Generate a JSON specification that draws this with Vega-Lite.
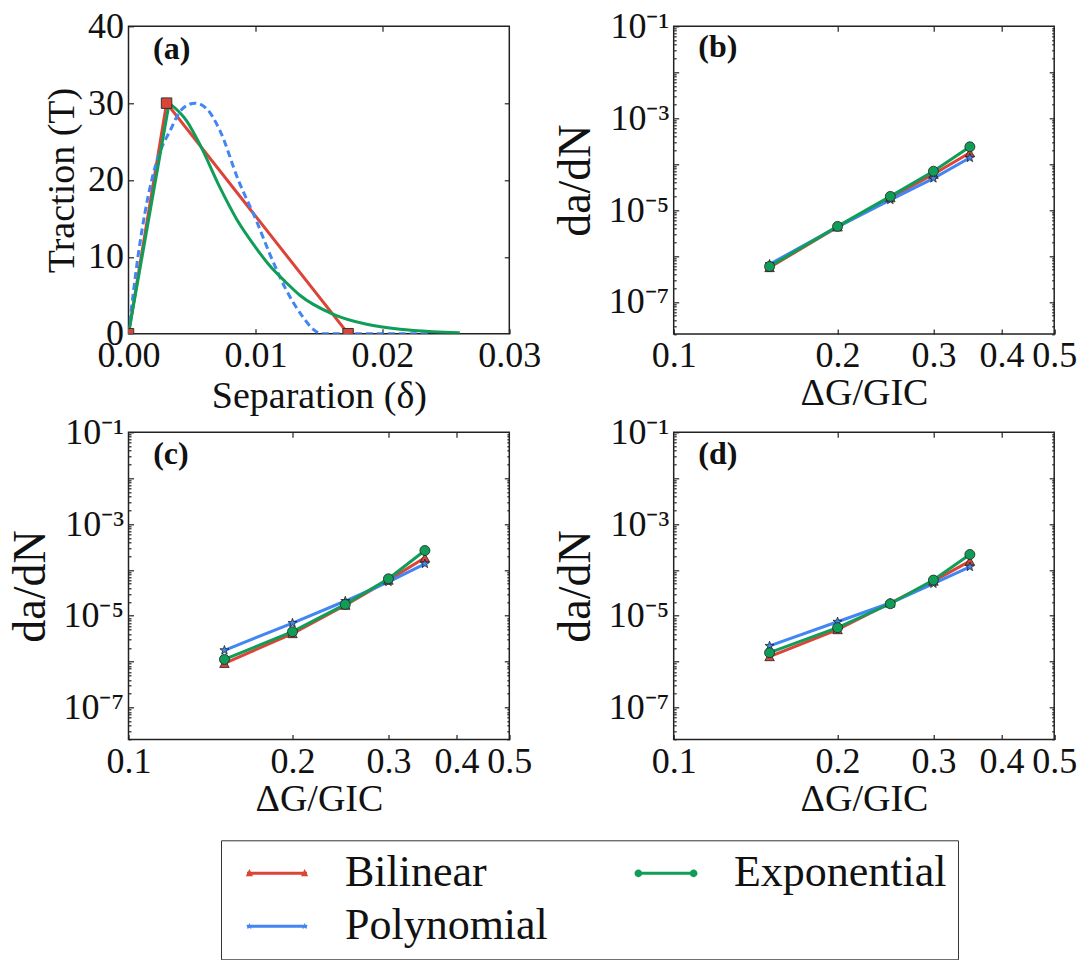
{
  "$schema": "https://vega.github.io/schema/vega-lite/v6.json",
  "padding": {"left": 6.5, "top": 7.3, "right": 0, "bottom": 0},
  "bounds": "flush",
  "columns": 2,
  "spacing": {"row": 98, "column": 164.2},
  "config": {
    "font": "Liberation Serif",
    "view": {"stroke": "#222", "strokeWidth": 1.5},
    "axis": {
      "domain": false, "grid": false, "offset": 0,
      "tickColor": "#222", "tickSize": -5, "tickWidth": 1.2,
      "labelFont": "Liberation Serif", "labelFontSize": 36, "labelColor": "#111", "labelPadding": 10,
      "labelFlush": false, "labelOverlap": false,
      "titleFont": "Liberation Serif", "titleFontSize": 38, "titleFontWeight": "normal", "titleColor": "#111"
    },
    "legend": {
      "orient": "none", "legendX": 92.5, "legendY": 814, "columns": 2, "direction": "horizontal",
      "strokeColor": "#333", "strokeWidth": 1, "padding": 11, "symbolOffset": 23,
      "labelFont": "Liberation Serif", "labelFontSize": 44, "labelColor": "#111", "labelLimit": 400,
      "labelOffset": 46, "columnPadding": 73, "rowPadding": 9, "symbolSize": 900, "symbolType": "circle"
    }
  },
  "datasets": {
    "traction": [
      {"branch": "bilinear", "model": "Bilinear", "delta": 0, "traction": 0},
      {"branch": "bilinear", "model": "Bilinear", "delta": 0.003, "traction": 30},
      {"branch": "bilinear", "model": "Bilinear", "delta": 0.0173, "traction": 0},
      {"branch": "poly", "model": "Polynomial", "delta": 0, "traction": 0},
      {"branch": "poly", "model": "Polynomial", "delta": 0.00077, "traction": 10.3},
      {"branch": "poly", "model": "Polynomial", "delta": 0.00183, "traction": 20},
      {"branch": "poly", "model": "Polynomial", "delta": 0.0024, "traction": 23.3},
      {"branch": "poly", "model": "Polynomial", "delta": 0.00327, "traction": 26.4},
      {"branch": "poly", "model": "Polynomial", "delta": 0.0042, "traction": 29.2},
      {"branch": "poly", "model": "Polynomial", "delta": 0.00524, "traction": 30},
      {"branch": "poly", "model": "Polynomial", "delta": 0.0062, "traction": 29.2},
      {"branch": "poly", "model": "Polynomial", "delta": 0.00721, "traction": 26.4},
      {"branch": "poly", "model": "Polynomial", "delta": 0.00865, "traction": 20},
      {"branch": "poly", "model": "Polynomial", "delta": 0.0101, "traction": 14.6},
      {"branch": "poly", "model": "Polynomial", "delta": 0.01115, "traction": 10.3},
      {"branch": "poly", "model": "Polynomial", "delta": 0.01233, "traction": 6.0},
      {"branch": "poly", "model": "Polynomial", "delta": 0.01377, "traction": 2.1},
      {"branch": "poly", "model": "Polynomial", "delta": 0.01456, "traction": 0.57},
      {"branch": "poly", "model": "Polynomial", "delta": 0.0152, "traction": 0},
      {"branch": "poly", "model": "Polynomial", "delta": 0.0237, "traction": 0},
      {"branch": "exp-rise", "model": "Exponential", "delta": 0, "traction": 0},
      {"branch": "exp-rise", "model": "Exponential", "delta": 0.0032, "traction": 30},
      {"branch": "exp-decay", "model": "Exponential", "delta": 0.0032, "traction": 30},
      {"branch": "exp-decay", "model": "Exponential", "delta": 0.00458, "traction": 27.7},
      {"branch": "exp-decay", "model": "Exponential", "delta": 0.00563, "traction": 24.6},
      {"branch": "exp-decay", "model": "Exponential", "delta": 0.00721, "traction": 19.0},
      {"branch": "exp-decay", "model": "Exponential", "delta": 0.00852, "traction": 14.9},
      {"branch": "exp-decay", "model": "Exponential", "delta": 0.0099, "traction": 11.5},
      {"branch": "exp-decay", "model": "Exponential", "delta": 0.01115, "traction": 8.8},
      {"branch": "exp-decay", "model": "Exponential", "delta": 0.01246, "traction": 6.6},
      {"branch": "exp-decay", "model": "Exponential", "delta": 0.0135, "traction": 5.0},
      {"branch": "exp-decay", "model": "Exponential", "delta": 0.01614, "traction": 2.52},
      {"branch": "exp-decay", "model": "Exponential", "delta": 0.01877, "traction": 1.22},
      {"branch": "exp-decay", "model": "Exponential", "delta": 0.02139, "traction": 0.57},
      {"branch": "exp-decay", "model": "Exponential", "delta": 0.02401, "traction": 0.26},
      {"branch": "exp-decay", "model": "Exponential", "delta": 0.0261, "traction": 0.13}
    ],
    "rates": [
      {"panel": "b", "model": "Bilinear", "ratio": 0.15, "rate": 5.6e-7},
      {"panel": "b", "model": "Bilinear", "ratio": 0.2, "rate": 4.3e-6},
      {"panel": "b", "model": "Bilinear", "ratio": 0.25, "rate": 1.86e-5},
      {"panel": "b", "model": "Bilinear", "ratio": 0.3, "rate": 6.0e-5},
      {"panel": "b", "model": "Bilinear", "ratio": 0.35, "rate": 1.76e-4},
      {"panel": "b", "model": "Polynomial", "ratio": 0.15, "rate": 6.6e-7},
      {"panel": "b", "model": "Polynomial", "ratio": 0.2, "rate": 4.3e-6},
      {"panel": "b", "model": "Polynomial", "ratio": 0.25, "rate": 1.66e-5},
      {"panel": "b", "model": "Polynomial", "ratio": 0.3, "rate": 4.9e-5},
      {"panel": "b", "model": "Polynomial", "ratio": 0.35, "rate": 1.37e-4},
      {"panel": "b", "model": "Exponential", "ratio": 0.15, "rate": 5.9e-7},
      {"panel": "b", "model": "Exponential", "ratio": 0.2, "rate": 4.4e-6},
      {"panel": "b", "model": "Exponential", "ratio": 0.25, "rate": 1.98e-5},
      {"panel": "b", "model": "Exponential", "ratio": 0.3, "rate": 7.0e-5},
      {"panel": "b", "model": "Exponential", "ratio": 0.35, "rate": 2.38e-4},
      {"panel": "c", "model": "Bilinear", "ratio": 0.15, "rate": 9.2e-7},
      {"panel": "c", "model": "Bilinear", "ratio": 0.2, "rate": 4.1e-6},
      {"panel": "c", "model": "Bilinear", "ratio": 0.25, "rate": 1.7e-5},
      {"panel": "c", "model": "Bilinear", "ratio": 0.3, "rate": 6.0e-5},
      {"panel": "c", "model": "Bilinear", "ratio": 0.35, "rate": 1.84e-4},
      {"panel": "c", "model": "Polynomial", "ratio": 0.15, "rate": 1.77e-6},
      {"panel": "c", "model": "Polynomial", "ratio": 0.2, "rate": 6.95e-6},
      {"panel": "c", "model": "Polynomial", "ratio": 0.25, "rate": 2.1e-5},
      {"panel": "c", "model": "Polynomial", "ratio": 0.3, "rate": 5.5e-5},
      {"panel": "c", "model": "Polynomial", "ratio": 0.35, "rate": 1.36e-4},
      {"panel": "c", "model": "Exponential", "ratio": 0.15, "rate": 1.12e-6},
      {"panel": "c", "model": "Exponential", "ratio": 0.2, "rate": 4.5e-6},
      {"panel": "c", "model": "Exponential", "ratio": 0.25, "rate": 1.77e-5},
      {"panel": "c", "model": "Exponential", "ratio": 0.3, "rate": 6.4e-5},
      {"panel": "c", "model": "Exponential", "ratio": 0.35, "rate": 2.65e-4},
      {"panel": "d", "model": "Bilinear", "ratio": 0.15, "rate": 1.29e-6},
      {"panel": "d", "model": "Bilinear", "ratio": 0.2, "rate": 5.0e-6},
      {"panel": "d", "model": "Bilinear", "ratio": 0.25, "rate": 1.9e-5},
      {"panel": "d", "model": "Bilinear", "ratio": 0.3, "rate": 5.7e-5},
      {"panel": "d", "model": "Bilinear", "ratio": 0.35, "rate": 1.55e-4},
      {"panel": "d", "model": "Polynomial", "ratio": 0.15, "rate": 2.2e-6},
      {"panel": "d", "model": "Polynomial", "ratio": 0.2, "rate": 7.4e-6},
      {"panel": "d", "model": "Polynomial", "ratio": 0.25, "rate": 1.9e-5},
      {"panel": "d", "model": "Polynomial", "ratio": 0.3, "rate": 5.0e-5},
      {"panel": "d", "model": "Polynomial", "ratio": 0.35, "rate": 1.17e-4},
      {"panel": "d", "model": "Exponential", "ratio": 0.15, "rate": 1.57e-6},
      {"panel": "d", "model": "Exponential", "ratio": 0.2, "rate": 5.5e-6},
      {"panel": "d", "model": "Exponential", "ratio": 0.25, "rate": 1.83e-5},
      {"panel": "d", "model": "Exponential", "ratio": 0.3, "rate": 6.0e-5},
      {"panel": "d", "model": "Exponential", "ratio": 0.35, "rate": 2.17e-4}
    ]
  },
  "concat": [
    {
      "width": 380.8, "height": 307.4,
      "resolve": {"axis": {"x": "independent", "y": "independent"}},
      "layer": [
        {
          "data": {"name": "traction"},
          "encoding": {
            "x": {"field": "delta", "type": "quantitative",
                  "scale": {"domain": [0, 0.03], "nice": false, "zero": false},
                  "axis": {"orient": "bottom", "values": [0, 0.01, 0.02, 0.03], "format": ".2f", "title": "Separation (δ)", "titleY": 74.3, "titleBaseline": "alphabetic"}},
            "y": {"field": "traction", "type": "quantitative",
                  "scale": {"domain": [0, 40], "nice": false},
                  "axis": {"orient": "left", "values": [0, 10, 20, 30, 40], "format": "d", "title": "Traction (T)", "titleX": -55, "titleBaseline": "alphabetic"}},
            "color": {"field": "model", "type": "nominal",
                      "scale": {"domain": ["Bilinear", "Exponential", "Polynomial"], "range": ["#DB4437", "#0F9D58", "#4285F4"]},
                      "legend": {
                        "title": null,
                        "encode": {"symbols": {"update": {
                          "shape": {"signal": "datum.value === 'Bilinear' ? 'M-2,-0.1L2,-0.1L2,0.1L-2,0.1Z M-1.6,0.2L-2.08,0.2L-1.84,-0.28Z M2.08,0.2L1.6,0.2L1.84,-0.28Z' : datum.value === 'Exponential' ? 'M-2,-0.1L2,-0.1L2,0.1L-2,0.1Z M-2.1,0A0.26,0.26 0 1,1 -1.58,0A0.26,0.26 0 1,1 -2.1,0Z M1.58,0A0.26,0.26 0 1,1 2.1,0A0.26,0.26 0 1,1 1.58,0Z' : 'M-2,-0.1L2,-0.1L2,0.1L-2,0.1Z M-1.84,-0.24L-1.7836,-0.0776L-1.6118,-0.0742L-1.7486,0.0296L-1.699,0.1942L-1.84,0.096L-1.981,0.1942L-1.9314,0.0296L-2.0682,-0.0742L-1.8964,-0.0776Z M1.84,-0.24L1.8964,-0.0776L2.0682,-0.0742L1.9314,0.0296L1.981,0.1942L1.84,0.096L1.699,0.1942L1.7486,0.0296L1.6118,-0.0742L1.7836,-0.0776Z'"},
                          "fill": {"scale": "color", "field": "value"},
                          "stroke": {"value": "transparent"},
                          "strokeWidth": {"value": 0},
                          "strokeDash": {"value": [1, 0]},
                          "size": {"value": 900},
                          "opacity": {"value": 1}
                        }}}
                      }}
          },
          "layer": [
            {"transform": [{"filter": "datum.branch === 'bilinear'"}],
             "mark": {"type": "line", "strokeWidth": 3, "clip": true}},
            {"transform": [{"filter": "datum.branch === 'poly'"}],
             "mark": {"type": "line", "strokeWidth": 3, "clip": true, "interpolate": "monotone", "strokeDash": [7, 4]}},
            {"transform": [{"filter": "datum.branch === 'exp-rise'"}],
             "mark": {"type": "line", "strokeWidth": 3, "clip": true}},
            {"transform": [{"filter": "datum.branch === 'exp-decay'"}],
             "mark": {"type": "line", "strokeWidth": 3, "clip": true, "interpolate": "monotone"}},
            {"transform": [{"filter": "datum.branch === 'bilinear'"}],
             "mark": {"type": "point", "shape": "square", "filled": true, "size": 110, "stroke": "#333", "strokeWidth": 1, "opacity": 1, "clip": true}},
            {"transform": [{"filter": "datum.branch === 'bilinear' && datum.delta === 0"}],
             "mark": {"type": "text", "text": "(a)", "align": "left", "baseline": "alphabetic", "font": "Liberation Serif", "fontSize": 32, "fontWeight": "bold"},
             "encoding": {"x": {"datum": 0.00193}, "y": {"datum": 35.75}, "color": {"value": "#111"}}}
          ]
        },
        {
          "data": {"name": "traction"},
          "mark": {"type": "point", "opacity": 0},
          "encoding": {
            "x": {"field": "delta", "type": "quantitative", "scale": {"domain": [0, 0.03], "nice": false, "zero": false},
                  "axis": {"orient": "top", "values": [0.01, 0.02], "labels": false, "title": null}},
            "y": {"field": "traction", "type": "quantitative", "scale": {"domain": [0, 40], "nice": false},
                  "axis": {"orient": "right", "values": [10, 20, 30], "labels": false, "title": null}}
          }
        }
      ]
    },
    {
      "width": 380.5, "height": 307.7,
      "data": {"name": "rates"},
      "transform": [{"filter": "datum.panel === 'b'"}],
      "resolve": {"axis": {"x": "independent", "y": "independent"}},
      "layer": [
        {
          "encoding": {
            "x": {"field": "ratio", "type": "quantitative",
                  "scale": {"type": "log", "domain": [0.1, 0.5], "nice": false},
                  "axis": {"orient": "bottom", "values": [0.1, 0.2, 0.3, 0.4, 0.5], "format": ".1f", "title": "ΔG/GIC", "titleY": 70.5, "titleBaseline": "alphabetic"}},
            "y": {"field": "rate", "type": "quantitative",
                  "scale": {"type": "log", "domain": [2e-8, 0.1], "nice": false},
                  "axis": {"orient": "left", "values": [0.1, 0.01, 0.001, 0.0001, 0.00001, 0.000001, 0.0000001],
                           "labelExpr": "(-round(log(datum.value)/LN10)) % 2 == 1 ? '10⁻' + ['⁰','¹','²','³','⁴','⁵','⁶','⁷','⁸','⁹'][-round(log(datum.value)/LN10)] : ''",
                           "title": "da/dN", "titleFontSize": 46, "titleX": -84, "titleBaseline": "alphabetic"}},
            "color": {"field": "model", "type": "nominal",
                      "scale": {"domain": ["Bilinear", "Exponential", "Polynomial"], "range": ["#DB4437", "#0F9D58", "#4285F4"]}}
          },
          "layer": [
            {"mark": {"type": "line", "strokeWidth": 3}},
            {"transform": [{"filter": "datum.model === 'Bilinear'"}],
             "mark": {"type": "point", "shape": "triangle-up", "filled": true, "size": 90, "stroke": "#222", "strokeWidth": 0.8, "opacity": 1}},
            {"transform": [{"filter": "datum.model === 'Polynomial'"}],
             "mark": {"type": "point", "shape": "M0,-1L0.235,-0.324L0.951,-0.309L0.38,0.124L0.588,0.809L0,0.4L-0.588,0.809L-0.38,0.124L-0.951,-0.309L-0.235,-0.324Z", "filled": true, "size": 90, "stroke": "#222", "strokeWidth": 0.8, "opacity": 1}},
            {"transform": [{"filter": "datum.model === 'Exponential'"}],
             "mark": {"type": "point", "shape": "circle", "filled": true, "size": 100, "stroke": "#222", "strokeWidth": 0.8, "opacity": 1}},
            {"transform": [{"filter": "datum.model === 'Bilinear' && datum.ratio === 0.15"}],
             "mark": {"type": "text", "text": "(b)", "align": "left", "baseline": "alphabetic", "font": "Liberation Serif", "fontSize": 32, "fontWeight": "bold"},
             "encoding": {"x": {"datum": 0.111}, "y": {"datum": 0.0214}, "color": {"value": "#111"}}}
          ]
        },
        {
          "mark": {"type": "point", "opacity": 0},
          "encoding": {
            "x": {"field": "ratio", "type": "quantitative", "scale": {"type": "log", "domain": [0.1, 0.5], "nice": false},
                  "axis": {"orient": "top", "values": [0.2, 0.3, 0.4], "labels": false, "title": null}},
            "y": {"field": "rate", "type": "quantitative", "scale": {"type": "log", "domain": [2e-8, 0.1], "nice": false},
                  "axis": {"orient": "right", "values": [0.01, 0.001, 0.0001, 0.00001, 0.000001, 0.0000001], "labels": false, "title": null}}
          }
        },
        {
          "mark": {"type": "point", "opacity": 0},
          "encoding": {
            "x": {"field": "ratio", "type": "quantitative", "scale": {"type": "log", "domain": [0.1, 0.5], "nice": false}, "axis": null},
            "y": {"field": "rate", "type": "quantitative", "scale": {"type": "log", "domain": [2e-8, 0.1], "nice": false},
                  "axis": {"orient": "left", "tickSize": -2.5, "labels": false, "title": null,
                           "values": [2e-8, 3e-8, 4e-8, 5e-8, 6e-8, 7e-8, 8e-8, 9e-8, 2e-7, 3e-7, 4e-7, 5e-7, 6e-7, 7e-7, 8e-7, 9e-7, 2e-6, 3e-6, 4e-6, 5e-6, 6e-6, 7e-6, 8e-6, 9e-6, 2e-5, 3e-5, 4e-5, 5e-5, 6e-5, 7e-5, 8e-5, 9e-5, 2e-4, 3e-4, 4e-4, 5e-4, 6e-4, 7e-4, 8e-4, 9e-4, 2e-3, 3e-3, 4e-3, 5e-3, 6e-3, 7e-3, 8e-3, 9e-3, 2e-2, 3e-2, 4e-2, 5e-2, 6e-2, 7e-2, 8e-2, 9e-2]}}
          }
        },
        {
          "mark": {"type": "point", "opacity": 0},
          "encoding": {
            "x": {"field": "ratio", "type": "quantitative", "scale": {"type": "log", "domain": [0.1, 0.5], "nice": false}, "axis": null},
            "y": {"field": "rate", "type": "quantitative", "scale": {"type": "log", "domain": [2e-8, 0.1], "nice": false},
                  "axis": {"orient": "right", "tickSize": -2.5, "labels": false, "title": null,
                           "values": [2e-8, 3e-8, 4e-8, 5e-8, 6e-8, 7e-8, 8e-8, 9e-8, 2e-7, 3e-7, 4e-7, 5e-7, 6e-7, 7e-7, 8e-7, 9e-7, 2e-6, 3e-6, 4e-6, 5e-6, 6e-6, 7e-6, 8e-6, 9e-6, 2e-5, 3e-5, 4e-5, 5e-5, 6e-5, 7e-5, 8e-5, 9e-5, 2e-4, 3e-4, 4e-4, 5e-4, 6e-4, 7e-4, 8e-4, 9e-4, 2e-3, 3e-3, 4e-3, 5e-3, 6e-3, 7e-3, 8e-3, 9e-3, 2e-2, 3e-2, 4e-2, 5e-2, 6e-2, 7e-2, 8e-2, 9e-2]}}
          }
        }
      ]
    },
    {
      "width": 380.8, "height": 307.3,
      "data": {"name": "rates"},
      "transform": [{"filter": "datum.panel === 'c'"}],
      "resolve": {"axis": {"x": "independent", "y": "independent"}},
      "layer": [
        {
          "encoding": {
            "x": {"field": "ratio", "type": "quantitative",
                  "scale": {"type": "log", "domain": [0.1, 0.5], "nice": false},
                  "axis": {"orient": "bottom", "values": [0.1, 0.2, 0.3, 0.4, 0.5], "format": ".1f", "title": "ΔG/GIC", "titleY": 70.5, "titleBaseline": "alphabetic"}},
            "y": {"field": "rate", "type": "quantitative",
                  "scale": {"type": "log", "domain": [2e-8, 0.1], "nice": false},
                  "axis": {"orient": "left", "values": [0.1, 0.01, 0.001, 0.0001, 0.00001, 0.000001, 0.0000001],
                           "labelExpr": "(-round(log(datum.value)/LN10)) % 2 == 1 ? '10⁻' + ['⁰','¹','²','³','⁴','⁵','⁶','⁷','⁸','⁹'][-round(log(datum.value)/LN10)] : ''",
                           "title": "da/dN", "titleFontSize": 46, "titleX": -84, "titleBaseline": "alphabetic"}},
            "color": {"field": "model", "type": "nominal",
                      "scale": {"domain": ["Bilinear", "Exponential", "Polynomial"], "range": ["#DB4437", "#0F9D58", "#4285F4"]}}
          },
          "layer": [
            {"mark": {"type": "line", "strokeWidth": 3}},
            {"transform": [{"filter": "datum.model === 'Bilinear'"}],
             "mark": {"type": "point", "shape": "triangle-up", "filled": true, "size": 90, "stroke": "#222", "strokeWidth": 0.8, "opacity": 1}},
            {"transform": [{"filter": "datum.model === 'Polynomial'"}],
             "mark": {"type": "point", "shape": "M0,-1L0.235,-0.324L0.951,-0.309L0.38,0.124L0.588,0.809L0,0.4L-0.588,0.809L-0.38,0.124L-0.951,-0.309L-0.235,-0.324Z", "filled": true, "size": 90, "stroke": "#222", "strokeWidth": 0.8, "opacity": 1}},
            {"transform": [{"filter": "datum.model === 'Exponential'"}],
             "mark": {"type": "point", "shape": "circle", "filled": true, "size": 100, "stroke": "#222", "strokeWidth": 0.8, "opacity": 1}},
            {"transform": [{"filter": "datum.model === 'Bilinear' && datum.ratio === 0.15"}],
             "mark": {"type": "text", "text": "(c)", "align": "left", "baseline": "alphabetic", "font": "Liberation Serif", "fontSize": 32, "fontWeight": "bold"},
             "encoding": {"x": {"datum": 0.111}, "y": {"datum": 0.0201}, "color": {"value": "#111"}}}
          ]
        },
        {
          "mark": {"type": "point", "opacity": 0},
          "encoding": {
            "x": {"field": "ratio", "type": "quantitative", "scale": {"type": "log", "domain": [0.1, 0.5], "nice": false},
                  "axis": {"orient": "top", "values": [0.2, 0.3, 0.4], "labels": false, "title": null}},
            "y": {"field": "rate", "type": "quantitative", "scale": {"type": "log", "domain": [2e-8, 0.1], "nice": false},
                  "axis": {"orient": "right", "values": [0.01, 0.001, 0.0001, 0.00001, 0.000001, 0.0000001], "labels": false, "title": null}}
          }
        },
        {
          "mark": {"type": "point", "opacity": 0},
          "encoding": {
            "x": {"field": "ratio", "type": "quantitative", "scale": {"type": "log", "domain": [0.1, 0.5], "nice": false}, "axis": null},
            "y": {"field": "rate", "type": "quantitative", "scale": {"type": "log", "domain": [2e-8, 0.1], "nice": false},
                  "axis": {"orient": "left", "tickSize": -2.5, "labels": false, "title": null,
                           "values": [2e-8, 3e-8, 4e-8, 5e-8, 6e-8, 7e-8, 8e-8, 9e-8, 2e-7, 3e-7, 4e-7, 5e-7, 6e-7, 7e-7, 8e-7, 9e-7, 2e-6, 3e-6, 4e-6, 5e-6, 6e-6, 7e-6, 8e-6, 9e-6, 2e-5, 3e-5, 4e-5, 5e-5, 6e-5, 7e-5, 8e-5, 9e-5, 2e-4, 3e-4, 4e-4, 5e-4, 6e-4, 7e-4, 8e-4, 9e-4, 2e-3, 3e-3, 4e-3, 5e-3, 6e-3, 7e-3, 8e-3, 9e-3, 2e-2, 3e-2, 4e-2, 5e-2, 6e-2, 7e-2, 8e-2, 9e-2]}}
          }
        },
        {
          "mark": {"type": "point", "opacity": 0},
          "encoding": {
            "x": {"field": "ratio", "type": "quantitative", "scale": {"type": "log", "domain": [0.1, 0.5], "nice": false}, "axis": null},
            "y": {"field": "rate", "type": "quantitative", "scale": {"type": "log", "domain": [2e-8, 0.1], "nice": false},
                  "axis": {"orient": "right", "tickSize": -2.5, "labels": false, "title": null,
                           "values": [2e-8, 3e-8, 4e-8, 5e-8, 6e-8, 7e-8, 8e-8, 9e-8, 2e-7, 3e-7, 4e-7, 5e-7, 6e-7, 7e-7, 8e-7, 9e-7, 2e-6, 3e-6, 4e-6, 5e-6, 6e-6, 7e-6, 8e-6, 9e-6, 2e-5, 3e-5, 4e-5, 5e-5, 6e-5, 7e-5, 8e-5, 9e-5, 2e-4, 3e-4, 4e-4, 5e-4, 6e-4, 7e-4, 8e-4, 9e-4, 2e-3, 3e-3, 4e-3, 5e-3, 6e-3, 7e-3, 8e-3, 9e-3, 2e-2, 3e-2, 4e-2, 5e-2, 6e-2, 7e-2, 8e-2, 9e-2]}}
          }
        }
      ]
    },
    {
      "width": 380.5, "height": 307.3,
      "data": {"name": "rates"},
      "transform": [{"filter": "datum.panel === 'd'"}],
      "resolve": {"axis": {"x": "independent", "y": "independent"}},
      "layer": [
        {
          "encoding": {
            "x": {"field": "ratio", "type": "quantitative",
                  "scale": {"type": "log", "domain": [0.1, 0.5], "nice": false},
                  "axis": {"orient": "bottom", "values": [0.1, 0.2, 0.3, 0.4, 0.5], "format": ".1f", "title": "ΔG/GIC", "titleY": 70.5, "titleBaseline": "alphabetic"}},
            "y": {"field": "rate", "type": "quantitative",
                  "scale": {"type": "log", "domain": [2e-8, 0.1], "nice": false},
                  "axis": {"orient": "left", "values": [0.1, 0.01, 0.001, 0.0001, 0.00001, 0.000001, 0.0000001],
                           "labelExpr": "(-round(log(datum.value)/LN10)) % 2 == 1 ? '10⁻' + ['⁰','¹','²','³','⁴','⁵','⁶','⁷','⁸','⁹'][-round(log(datum.value)/LN10)] : ''",
                           "title": "da/dN", "titleFontSize": 46, "titleX": -84, "titleBaseline": "alphabetic"}},
            "color": {"field": "model", "type": "nominal",
                      "scale": {"domain": ["Bilinear", "Exponential", "Polynomial"], "range": ["#DB4437", "#0F9D58", "#4285F4"]}}
          },
          "layer": [
            {"mark": {"type": "line", "strokeWidth": 3}},
            {"transform": [{"filter": "datum.model === 'Bilinear'"}],
             "mark": {"type": "point", "shape": "triangle-up", "filled": true, "size": 90, "stroke": "#222", "strokeWidth": 0.8, "opacity": 1}},
            {"transform": [{"filter": "datum.model === 'Polynomial'"}],
             "mark": {"type": "point", "shape": "M0,-1L0.235,-0.324L0.951,-0.309L0.38,0.124L0.588,0.809L0,0.4L-0.588,0.809L-0.38,0.124L-0.951,-0.309L-0.235,-0.324Z", "filled": true, "size": 90, "stroke": "#222", "strokeWidth": 0.8, "opacity": 1}},
            {"transform": [{"filter": "datum.model === 'Exponential'"}],
             "mark": {"type": "point", "shape": "circle", "filled": true, "size": 100, "stroke": "#222", "strokeWidth": 0.8, "opacity": 1}},
            {"transform": [{"filter": "datum.model === 'Bilinear' && datum.ratio === 0.15"}],
             "mark": {"type": "text", "text": "(d)", "align": "left", "baseline": "alphabetic", "font": "Liberation Serif", "fontSize": 32, "fontWeight": "bold"},
             "encoding": {"x": {"datum": 0.111}, "y": {"datum": 0.0201}, "color": {"value": "#111"}}}
          ]
        },
        {
          "mark": {"type": "point", "opacity": 0},
          "encoding": {
            "x": {"field": "ratio", "type": "quantitative", "scale": {"type": "log", "domain": [0.1, 0.5], "nice": false},
                  "axis": {"orient": "top", "values": [0.2, 0.3, 0.4], "labels": false, "title": null}},
            "y": {"field": "rate", "type": "quantitative", "scale": {"type": "log", "domain": [2e-8, 0.1], "nice": false},
                  "axis": {"orient": "right", "values": [0.01, 0.001, 0.0001, 0.00001, 0.000001, 0.0000001], "labels": false, "title": null}}
          }
        },
        {
          "mark": {"type": "point", "opacity": 0},
          "encoding": {
            "x": {"field": "ratio", "type": "quantitative", "scale": {"type": "log", "domain": [0.1, 0.5], "nice": false}, "axis": null},
            "y": {"field": "rate", "type": "quantitative", "scale": {"type": "log", "domain": [2e-8, 0.1], "nice": false},
                  "axis": {"orient": "left", "tickSize": -2.5, "labels": false, "title": null,
                           "values": [2e-8, 3e-8, 4e-8, 5e-8, 6e-8, 7e-8, 8e-8, 9e-8, 2e-7, 3e-7, 4e-7, 5e-7, 6e-7, 7e-7, 8e-7, 9e-7, 2e-6, 3e-6, 4e-6, 5e-6, 6e-6, 7e-6, 8e-6, 9e-6, 2e-5, 3e-5, 4e-5, 5e-5, 6e-5, 7e-5, 8e-5, 9e-5, 2e-4, 3e-4, 4e-4, 5e-4, 6e-4, 7e-4, 8e-4, 9e-4, 2e-3, 3e-3, 4e-3, 5e-3, 6e-3, 7e-3, 8e-3, 9e-3, 2e-2, 3e-2, 4e-2, 5e-2, 6e-2, 7e-2, 8e-2, 9e-2]}}
          }
        },
        {
          "mark": {"type": "point", "opacity": 0},
          "encoding": {
            "x": {"field": "ratio", "type": "quantitative", "scale": {"type": "log", "domain": [0.1, 0.5], "nice": false}, "axis": null},
            "y": {"field": "rate", "type": "quantitative", "scale": {"type": "log", "domain": [2e-8, 0.1], "nice": false},
                  "axis": {"orient": "right", "tickSize": -2.5, "labels": false, "title": null,
                           "values": [2e-8, 3e-8, 4e-8, 5e-8, 6e-8, 7e-8, 8e-8, 9e-8, 2e-7, 3e-7, 4e-7, 5e-7, 6e-7, 7e-7, 8e-7, 9e-7, 2e-6, 3e-6, 4e-6, 5e-6, 6e-6, 7e-6, 8e-6, 9e-6, 2e-5, 3e-5, 4e-5, 5e-5, 6e-5, 7e-5, 8e-5, 9e-5, 2e-4, 3e-4, 4e-4, 5e-4, 6e-4, 7e-4, 8e-4, 9e-4, 2e-3, 3e-3, 4e-3, 5e-3, 6e-3, 7e-3, 8e-3, 9e-3, 2e-2, 3e-2, 4e-2, 5e-2, 6e-2, 7e-2, 8e-2, 9e-2]}}
          }
        }
      ]
    }
  ]
}
